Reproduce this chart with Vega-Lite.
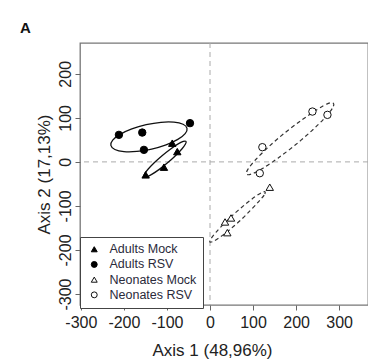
{
  "$schema": "https://vega.github.io/schema/vega-lite/v6.json",
  "width": 288,
  "height": 262,
  "autosize": {"type": "none"},
  "padding": {"left": 80, "top": 43, "right": 0, "bottom": 58},
  "background": "white",
  "title": {"text": "A", "anchor": "start", "frame": "group", "dx": -60, "offset": 7, "fontSize": 15, "font": "Liberation Sans", "fontWeight": "bold", "color": "#111"},
  "config": {
    "view": {"stroke": "#777", "strokeWidth": 1.3},
    "axis": {
      "grid": false, "domain": false, "tickColor": "#666", "tickSize": 5, "tickWidth": 1,
      "labelFont": "Liberation Sans", "labelFontSize": 16, "labelColor": "#222", "labelOverlap": false, "labelFlush": false,
      "titleFont": "Liberation Sans", "titleFontSize": 17, "titleFontWeight": "normal", "titleColor": "#222"
    },
    "legend": {
      "orient": "none", "legendX": 0, "legendY": 194, "strokeColor": "#444", "fillColor": "white",
      "padding": 6, "labelFont": "Liberation Sans", "labelFontSize": 12.5, "labelColor": "#2a2a3a",
      "symbolSize": 35, "symbolStrokeColor": "black", "symbolStrokeWidth": 1, "rowPadding": 2.2,
      "labelOffset": 9, "symbolOffset": 2
    }
  },
  "datasets": {
    "pts": [
      {"group": "Adults RSV", "x": -211.6, "y": 61.4},
      {"group": "Adults RSV", "x": -157.4, "y": 66.6},
      {"group": "Adults RSV", "x": -153.5, "y": 27.3},
      {"group": "Adults RSV", "x": -46.5, "y": 88.0},
      {"group": "Adults Mock", "x": -149.5, "y": -29.5},
      {"group": "Adults Mock", "x": -107, "y": -12},
      {"group": "Adults Mock", "x": -87.7, "y": 42.5},
      {"group": "Adults Mock", "x": -76, "y": 23.4},
      {"group": "Neonates RSV", "x": 121.6, "y": 33.4},
      {"group": "Neonates RSV", "x": 115.6, "y": -25.7},
      {"group": "Neonates RSV", "x": 237.9, "y": 114.3},
      {"group": "Neonates RSV", "x": 272.8, "y": 106.8},
      {"group": "Neonates Mock", "x": 138.8, "y": -57.5},
      {"group": "Neonates Mock", "x": 34.9, "y": -136.4},
      {"group": "Neonates Mock", "x": 48.8, "y": -127.3},
      {"group": "Neonates Mock", "x": 40.2, "y": -160.7}
    ],
    "solid": [
      {"ell": "Adults RSV", "i": 0, "x": -53.4, "y": 76.3},
      {"ell": "Adults RSV", "i": 1, "x": -57.7, "y": 64.3},
      {"ell": "Adults RSV", "i": 2, "x": -74.8, "y": 51.0},
      {"ell": "Adults RSV", "i": 3, "x": -102.1, "y": 38.7},
      {"ell": "Adults RSV", "i": 4, "x": -135.5, "y": 29.1},
      {"ell": "Adults RSV", "i": 5, "x": -169.8, "y": 23.8},
      {"ell": "Adults RSV", "i": 6, "x": -199.9, "y": 23.4},
      {"ell": "Adults RSV", "i": 7, "x": -221.1, "y": 28.2},
      {"ell": "Adults RSV", "i": 8, "x": -230.3, "y": 37.3},
      {"ell": "Adults RSV", "i": 9, "x": -226.0, "y": 49.4},
      {"ell": "Adults RSV", "i": 10, "x": -208.9, "y": 62.6},
      {"ell": "Adults RSV", "i": 11, "x": -181.6, "y": 75.0},
      {"ell": "Adults RSV", "i": 12, "x": -148.3, "y": 84.5},
      {"ell": "Adults RSV", "i": 13, "x": -113.9, "y": 89.9},
      {"ell": "Adults RSV", "i": 14, "x": -83.8, "y": 90.2},
      {"ell": "Adults RSV", "i": 15, "x": -62.6, "y": 85.4},
      {"ell": "Adults Mock", "i": 0, "x": -55.8, "y": 46.6},
      {"ell": "Adults Mock", "i": 1, "x": -57.0, "y": 40.5},
      {"ell": "Adults Mock", "i": 2, "x": -65.4, "y": 29.2},
      {"ell": "Adults Mock", "i": 3, "x": -79.7, "y": 14.5},
      {"ell": "Adults Mock", "i": 4, "x": -97.9, "y": -1.6},
      {"ell": "Adults Mock", "i": 5, "x": -117.1, "y": -16.4},
      {"ell": "Adults Mock", "i": 6, "x": -134.4, "y": -27.8},
      {"ell": "Adults Mock", "i": 7, "x": -147.2, "y": -34.0},
      {"ell": "Adults Mock", "i": 8, "x": -153.5, "y": -34.1},
      {"ell": "Adults Mock", "i": 9, "x": -152.4, "y": -28.0},
      {"ell": "Adults Mock", "i": 10, "x": -144.0, "y": -16.8},
      {"ell": "Adults Mock", "i": 11, "x": -129.6, "y": -2.0},
      {"ell": "Adults Mock", "i": 12, "x": -111.4, "y": 14.1},
      {"ell": "Adults Mock", "i": 13, "x": -92.2, "y": 28.9},
      {"ell": "Adults Mock", "i": 14, "x": -74.9, "y": 40.3},
      {"ell": "Adults Mock", "i": 15, "x": -62.1, "y": 46.5}
    ],
    "dashed": [
      {"ell": "Neonates RSV", "i": 0, "x": 287.0, "y": 132.6},
      {"ell": "Neonates RSV", "i": 1, "x": 283.8, "y": 121.1},
      {"ell": "Neonates RSV", "i": 2, "x": 265.7, "y": 99.1},
      {"ell": "Neonates RSV", "i": 3, "x": 235.5, "y": 70.0},
      {"ell": "Neonates RSV", "i": 4, "x": 197.8, "y": 38.2},
      {"ell": "Neonates RSV", "i": 5, "x": 157.8, "y": 8.5},
      {"ell": "Neonates RSV", "i": 6, "x": 123.0, "y": -14.5},
      {"ell": "Neonates RSV", "i": 7, "x": 97.3, "y": -27.3},
      {"ell": "Neonates RSV", "i": 8, "x": 85.1, "y": -28.0},
      {"ell": "Neonates RSV", "i": 9, "x": 88.3, "y": -16.5},
      {"ell": "Neonates RSV", "i": 10, "x": 106.4, "y": 5.4},
      {"ell": "Neonates RSV", "i": 11, "x": 136.6, "y": 34.6},
      {"ell": "Neonates RSV", "i": 12, "x": 174.3, "y": 66.4},
      {"ell": "Neonates RSV", "i": 13, "x": 214.3, "y": 96.0},
      {"ell": "Neonates RSV", "i": 14, "x": 249.1, "y": 119.0},
      {"ell": "Neonates RSV", "i": 15, "x": 274.8, "y": 132.8},
      {"ell": "Neonates Mock", "i": 0, "x": 128.0, "y": -68.1},
      {"ell": "Neonates Mock", "i": 1, "x": 125.8, "y": -75.3},
      {"ell": "Neonates Mock", "i": 2, "x": 113.1, "y": -90.1},
      {"ell": "Neonates Mock", "i": 3, "x": 93.8, "y": -110.2},
      {"ell": "Neonates Mock", "i": 4, "x": 70.8, "y": -132.6},
      {"ell": "Neonates Mock", "i": 5, "x": 46.0, "y": -153.8},
      {"ell": "Neonates Mock", "i": 6, "x": 23.7, "y": -170.6},
      {"ell": "Neonates Mock", "i": 7, "x": 7.5, "y": -180.5},
      {"ell": "Neonates Mock", "i": 8, "x": -0.1, "y": -181.9},
      {"ell": "Neonates Mock", "i": 9, "x": 2.1, "y": -174.7},
      {"ell": "Neonates Mock", "i": 10, "x": 13.7, "y": -159.9},
      {"ell": "Neonates Mock", "i": 11, "x": 32.9, "y": -139.8},
      {"ell": "Neonates Mock", "i": 12, "x": 56.9, "y": -117.4},
      {"ell": "Neonates Mock", "i": 13, "x": 82.0, "y": -96.2},
      {"ell": "Neonates Mock", "i": 14, "x": 104.3, "y": -79.4},
      {"ell": "Neonates Mock", "i": 15, "x": 120.4, "y": -69.5}
    ]
  },
  "layer": [
    {
      "data": {"values": [{"v": 0}]},
      "mark": {"type": "rule", "color": "#aaa", "strokeDash": [5, 4], "strokeWidth": 1},
      "encoding": {"x": {"field": "v", "type": "quantitative", "scale": {"domain": [-302, 367], "nice": false, "zero": false}}}
    },
    {
      "data": {"values": [{"v": 0}]},
      "mark": {"type": "rule", "color": "#aaa", "strokeDash": [5, 4], "strokeWidth": 1},
      "encoding": {"y": {"field": "v", "type": "quantitative", "scale": {"domain": [-325, 270], "nice": false, "zero": false}}}
    },
    {
      "data": {"name": "solid"},
      "mark": {"type": "line", "color": "#111", "strokeWidth": 1.3, "interpolate": "cardinal-closed"},
      "encoding": {
        "x": {"field": "x", "type": "quantitative"},
        "y": {"field": "y", "type": "quantitative"},
        "detail": {"field": "ell"},
        "order": {"field": "i", "type": "quantitative"}
      }
    },
    {
      "data": {"name": "dashed"},
      "mark": {"type": "line", "color": "#333", "strokeWidth": 1.2, "strokeDash": [4, 3], "interpolate": "cardinal-closed"},
      "encoding": {
        "x": {"field": "x", "type": "quantitative"},
        "y": {"field": "y", "type": "quantitative"},
        "detail": {"field": "ell"},
        "order": {"field": "i", "type": "quantitative"}
      }
    },
    {
      "data": {"name": "pts"},
      "mark": {"type": "point", "filled": true, "strokeWidth": 1, "opacity": 1, "size": 55},
      "encoding": {
        "x": {"field": "x", "type": "quantitative", "scale": {"domain": [-302, 367], "nice": false, "zero": false},
              "axis": {"values": [-300, -200, -100, 0, 100, 200, 300], "title": "Axis 1 (48,96%)", "labelPadding": 4, "titlePadding": 12, "titleX": 132,
                       "labelExpr": "datum.value < 0 ? '-' + abs(datum.value) : '' + datum.value"}},
        "y": {"field": "y", "type": "quantitative", "scale": {"domain": [-325, 270], "nice": false, "zero": false},
              "axis": {"values": [-300, -200, -100, 0, 100, 200], "title": "Axis 2 (17,13%)", "labelAngle": -90, "labelAlign": "center", "labelBaseline": "bottom", "labelPadding": 2, "titlePadding": 4,
                       "labelExpr": "datum.value < 0 ? '-' + abs(datum.value) : '' + datum.value"}},
        "shape": {"field": "group", "type": "nominal", "title": null,
                  "scale": {"domain": ["Adults Mock", "Adults RSV", "Neonates Mock", "Neonates RSV"], "range": ["triangle-up", "circle", "triangle-up", "circle"]}},
        "fill": {"field": "group", "type": "nominal", "title": null,
                 "scale": {"domain": ["Adults Mock", "Adults RSV", "Neonates Mock", "Neonates RSV"], "range": ["black", "black", "white", "white"]}},
        "stroke": {"field": "group", "type": "nominal", "title": null,
                   "scale": {"domain": ["Adults Mock", "Adults RSV", "Neonates Mock", "Neonates RSV"], "range": ["black", "black", "#111", "#111"]}}
      }
    }
  ]
}
